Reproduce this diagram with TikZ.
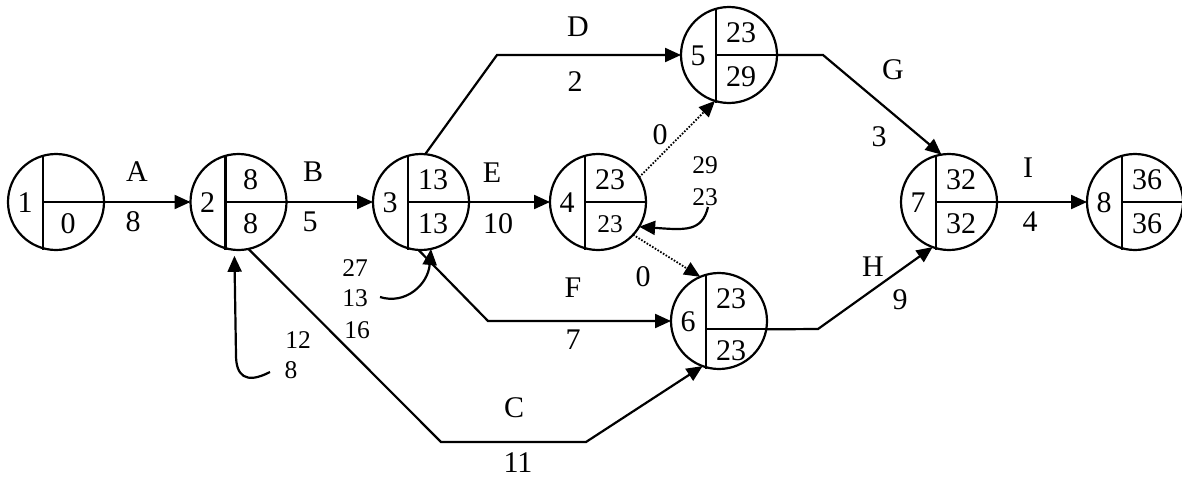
\documentclass[tikz,border=0pt]{standalone}
\usepackage{fontspec}
\setmainfont{Liberation Serif}
\usetikzlibrary{arrows.meta}
\newcommand\evnode[7]{%
 \node[evc] (#1) at (#2,#3) {};
 \begin{scope}[shift={(#2,#3)}]
  \draw[ln] (-13,-47.5) -- (-13,47.5);
  \draw[ln] (-13,#7) -- ({sqrt(2304-(#7)*(#7))},#7);
  \node[big] (#1n) at (-31,1) {#4};
  \node[big] (#1t) at (12,-22) {#5};
  \node[big] (#1b) at (12,{22+#7}) {#6};
 \end{scope}}
\begin{document}
\begin{tikzpicture}[x=1pt,y=-1pt,
  evc/.style={circle,draw,line width=2.2pt,minimum size=96pt,inner sep=0pt,outer sep=0pt},
  ln/.style={line width=2.2pt},
  arr/.style={line width=2.2pt,-{Triangle[length=16pt,width=14pt]}},
  dotarr/.style={line width=1.8pt,dash pattern=on 1.6pt off 1.6pt,-{Triangle[length=16pt,width=14pt]}},
  big/.style={font=\fontsize{30}{32}\selectfont,inner sep=0pt},
  sm/.style={font=\fontsize{25.5}{27}\selectfont,inner sep=0pt}]
\useasboundingbox (0,0) rectangle (1182,479);
\fill[white] (0,0) rectangle (1182,479);

\evnode{n1}{56}{202}{1}{}{0}{0}
\evnode{n2}{238.5}{202}{2}{8}{8}{0}
\evnode{n3}{421}{202}{3}{13}{13}{0}
\evnode{n4}{598}{202}{4}{23}{\fontsize{25.5}{27}\selectfont 23}{0}
\evnode{n5}{729}{55}{5}{23}{29}{0}
\evnode{n6}{719}{321}{6}{23}{23}{8}
\evnode{n7}{949}{202}{7}{32}{32}{0}
\evnode{n8}{1135}{202}{8}{36}{36}{0}

% activities
\draw[arr] (n1) -- (n2);
\draw[arr] (n2) -- (n3);
\draw[arr] (n3) -- (n4);
\draw[arr] (n7) -- (n8);
\coordinate (d1) at (497,55);
\draw[arr] (n3.85) -- (d1) -- (n5.west);
\coordinate (g1) at (823,55);
\draw[arr] (n5.east) -- (g1) -- (n7.99);
\coordinate (c1) at (441,442);
\coordinate (c2) at (586,442);
\draw[arr] (n2.-78) -- (c1) -- (c2) -- (n6.-110);
\coordinate (f1) at (488,321);
\draw[arr] (n3.-93) -- (f1) -- (n6.west);
\coordinate (h1) at (818,329);
\draw[arr] (n6.-10) -- (h1) -- (n7.-110);
\draw[dotarr] (n4.31) -- (n5.-107);
\draw[dotarr] (n4.-43) -- (n6.113);

% labels
\node[big] (lA) at (137,172) {A};
\node[big] (lA2) at (133,222) {8};
\node[big] (lB) at (313,172) {B};
\node[big] (lB2) at (310,222) {5};
\node[big] (lE) at (492,173) {E};
\node[big] (lE2) at (498,224) {10};
\node[big] (lD) at (578,27) {D};
\node[big] (lD2) at (575,82) {2};
\node[big] (lG) at (893,70) {G};
\node[big] (lG2) at (879,137) {3};
\node[big] (lI) at (1028,168) {I};
\node[big] (lI2) at (1030,222) {4};
\node[big] (lH) at (873,267) {H};
\node[big] (lH2) at (900,300) {9};
\node[big] (lF) at (573,288) {F};
\node[big] (lF2) at (573,340) {7};
\node[big] (lC) at (514,408) {C};
\node[big] (lC2) at (518,463) {11};
\node[big] (l45) at (660,135) {0};
\node[big] (l46) at (643,277) {0};

% slack notes
\node[sm] (s29) at (705,165) {29};
\node[sm] (s23) at (705,197) {23};
\node[sm] (s27) at (355,268) {27};
\node[sm] (s13) at (355,298) {13};
\node[sm] (s16) at (357,330) {16};
\node[sm] (s12) at (298,340) {12};
\node[sm] (s8) at (291,370) {8};

\coordinate (k2) at (270,372);
\draw[arr,shorten >=6pt] (k2) .. controls (245,385) and (236,375) .. (236,355) -- (n2.-95);
\coordinate (k3) at (380,297);
\draw[arr] (k3) .. controls (405,305) and (428,285) .. (n3.-78);
\coordinate (k4) at (708,207);
\draw[arr] (k4) .. controls (702,232) and (685,230) .. (n4.-31);
\end{tikzpicture}
\end{document}
